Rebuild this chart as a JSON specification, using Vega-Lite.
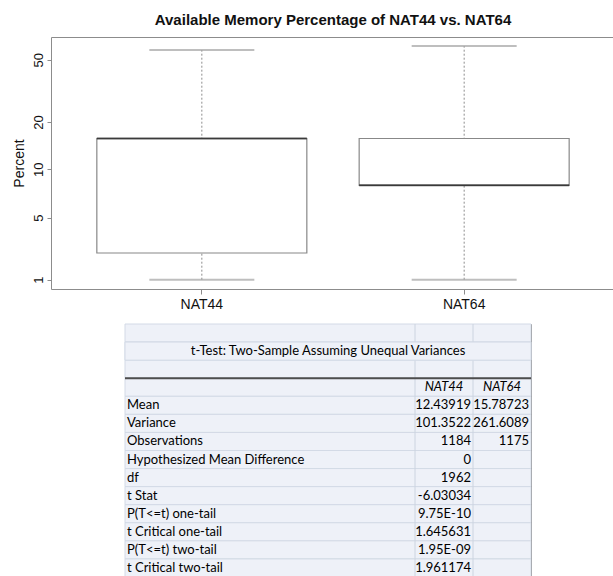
{
  "$schema": "https://vega.github.io/schema/vega-lite/v6.json",
  "padding": {"left": 12, "top": 13, "right": 0, "bottom": 0},
  "background": "white",
  "spacing": 11,
  "config": {"view": {"stroke": null}, "font": "Liberation Sans"},
  "vconcat": [
    {
      "width": 564,
      "height": 252,
      "title": {"text": "Available Memory Percentage of NAT44 vs. NAT64", "fontSize": 15, "fontWeight": "bold", "frame": "group", "anchor": "middle", "offset": 9, "color": "#111111", "font": "Liberation Sans"},
      "data": {"values": [
        {"group": "NAT44", "min": 1, "q1": 2.0, "median": 15.7, "q3": 15.7, "max": 57.7},
        {"group": "NAT64", "min": 1, "q1": 7.95, "median": 7.95, "q3": 15.7, "max": 61.2}
      ]},
      "resolve": {"axis": {"x": "independent"}},
      "layer": [
        {
          "mark": {"type": "rule", "strokeDash": [2, 2], "color": "#8c8c8c", "strokeWidth": 1},
          "encoding": {
            "x": {"field": "group", "type": "nominal", "scale": {"type": "band", "paddingInner": 0.2, "paddingOuter": 0.175}, "axis": null},
            "y": {"field": "min", "type": "quantitative",
              "scale": {"type": "log", "domain": [0.785, 1, 5, 10, 20, 50, 70], "range": [252, 242.7, 180.7, 132.3, 85, 22.7, 0], "nice": false},
              "axis": {"title": "Percent", "values": [1, 5, 10, 20, 50], "format": "d", "labelAngle": -90, "labelFontSize": 13, "titleFontSize": 14, "titleFontWeight": "normal", "tickSize": 4, "labelPadding": 2, "titlePadding": 6, "domainColor": "#8c8c8c", "tickColor": "#8c8c8c", "labelColor": "#111111", "titleColor": "#111111", "grid": false, "labelFont": "Liberation Sans", "titleFont": "Liberation Sans"}},
            "y2": {"field": "max"}
          }
        },
        {
          "mark": {"type": "tick", "size": 105, "thickness": 2, "color": "#a3a3a3"},
          "encoding": {
            "x": {"field": "group", "type": "nominal", "axis": null},
            "y": {"field": "min", "type": "quantitative"}
          }
        },
        {
          "mark": {"type": "tick", "size": 105, "thickness": 2, "color": "#a3a3a3"},
          "encoding": {
            "x": {"field": "group", "type": "nominal", "axis": null},
            "y": {"field": "max", "type": "quantitative"}
          }
        },
        {
          "mark": {"type": "bar", "size": 210, "fill": "white", "stroke": "#888888", "strokeWidth": 1.2},
          "encoding": {
            "x": {"field": "group", "type": "nominal", "axis": {"title": null, "labelAngle": 0, "labelFontSize": 14, "tickSize": 5, "labelPadding": 3, "domainColor": "#8c8c8c", "tickColor": "#8c8c8c", "labelColor": "#111111", "labelFont": "Liberation Sans", "grid": false}},
            "y": {"field": "q1", "type": "quantitative"},
            "y2": {"field": "q3"}
          }
        },
        {
          "mark": {"type": "tick", "size": 210, "thickness": 2, "color": "#1a1a1a"},
          "encoding": {
            "x": {"field": "group", "type": "nominal", "axis": {"orient": "top", "title": null, "labels": false, "ticks": false, "domainColor": "#8c8c8c", "grid": false}},
            "y": {"field": "median", "type": "quantitative"}
          }
        }
      ]
    },
    {
      "spacing": 0,
      "hconcat": [
        {
          "width": 72,
          "height": 253,
          "data": {"values": [{}]},
          "mark": {"type": "text"},
          "encoding": {}
        },
        {
          "width": 406,
          "height": 253,
          "view": {"stroke": "#7f7f7f", "fill": "#eef1f8"},
          "data": {"values": [
            {"row": 0, "label": "", "NAT44": "", "NAT64": ""},
            {"row": 1, "label": "", "NAT44": "", "NAT64": ""},
            {"row": 2, "label": "", "NAT44": "", "NAT64": ""},
            {"row": 3, "label": "", "NAT44": "", "NAT64": ""},
            {"row": 4, "label": "Mean", "NAT44": "12.43919", "NAT64": "15.78723"},
            {"row": 5, "label": "Variance", "NAT44": "101.3522", "NAT64": "261.6089"},
            {"row": 6, "label": "Observations", "NAT44": "1184", "NAT64": "1175"},
            {"row": 7, "label": "Hypothesized Mean Difference", "NAT44": "0", "NAT64": ""},
            {"row": 8, "label": "df", "NAT44": "1962", "NAT64": ""},
            {"row": 9, "label": "t Stat", "NAT44": "-6.03034", "NAT64": ""},
            {"row": 10, "label": "P(T<=t) one-tail", "NAT44": "9.75E-10", "NAT64": ""},
            {"row": 11, "label": "t Critical one-tail", "NAT44": "1.645631", "NAT64": ""},
            {"row": 12, "label": "P(T<=t) two-tail", "NAT44": "1.95E-09", "NAT64": ""},
            {"row": 13, "label": "t Critical two-tail", "NAT44": "1.961174", "NAT64": ""}
          ]},
          "layer": [
            {
              "mark": {"type": "rect", "fill": "#eef1f8", "stroke": "#d3dae6", "strokeWidth": 1},
              "encoding": {
                "y": {"field": "row", "type": "ordinal", "scale": {"type": "band", "domain": [0,1,2,3,4,5,6,7,8,9,10,11,12,13], "paddingInner": 0, "paddingOuter": 0}, "axis": null}
              }
            },
            {
              "data": {"values": [{"col": "NAT44"}, {"col": "NAT64"}]},
              "mark": {"type": "rule", "color": "#ccd4e0", "strokeWidth": 1},
              "encoding": {
                "x": {"field": "col", "type": "nominal", "bandPosition": 0, "scale": {"type": "band", "domain": ["label", "c2", "c3", "c4", "c5", "NAT44", "NAT64"], "paddingInner": 0, "paddingOuter": 0}, "axis": null}
              }
            },
            {
              "transform": [{"filter": "datum.row == 1"}],
              "mark": {"type": "rect", "fill": "#eef1f8", "stroke": "#d3dae6", "strokeWidth": 1},
              "encoding": {
                "y": {"field": "row", "type": "ordinal"}
              }
            },
            {
              "data": {"values": [{"row": 3}]},
              "mark": {"type": "rule", "color": "#4d4d4d", "strokeWidth": 2},
              "encoding": {
                "y": {"field": "row", "type": "ordinal", "bandPosition": 0}
              }
            },
            {
              "data": {"values": [{"row": 1, "t": "t-Test: Two-Sample Assuming Unequal Variances"}]},
              "mark": {"type": "text", "font": "Lato", "fontSize": 13, "color": "#000000", "align": "center"},
              "encoding": {
                "y": {"field": "row", "type": "ordinal"},
                "text": {"field": "t"}
              }
            },
            {
              "data": {"values": [{"row": 3, "col": "NAT44"}, {"row": 3, "col": "NAT64"}]},
              "mark": {"type": "text", "font": "Lato", "fontSize": 13, "fontStyle": "italic", "color": "#000000", "align": "center"},
              "encoding": {
                "y": {"field": "row", "type": "ordinal"},
                "x": {"field": "col", "type": "nominal", "bandPosition": 0.5},
                "text": {"field": "col"}
              }
            },
            {
              "mark": {"type": "text", "font": "Lato", "fontSize": 13, "color": "#000000", "align": "left", "dx": 2},
              "encoding": {
                "y": {"field": "row", "type": "ordinal"},
                "x": {"datum": "label", "type": "nominal", "bandPosition": 0},
                "text": {"field": "label"}
              }
            },
            {
              "mark": {"type": "text", "font": "Lato", "fontSize": 13, "color": "#000000", "align": "right", "dx": -2},
              "encoding": {
                "y": {"field": "row", "type": "ordinal"},
                "x": {"datum": "NAT44", "type": "nominal", "bandPosition": 1},
                "text": {"field": "NAT44"}
              }
            },
            {
              "mark": {"type": "text", "font": "Lato", "fontSize": 13, "color": "#000000", "align": "right", "dx": -2},
              "encoding": {
                "y": {"field": "row", "type": "ordinal"},
                "x": {"datum": "NAT64", "type": "nominal", "bandPosition": 1},
                "text": {"field": "NAT64"}
              }
            }
          ]
        }
      ]
    }
  ]
}
